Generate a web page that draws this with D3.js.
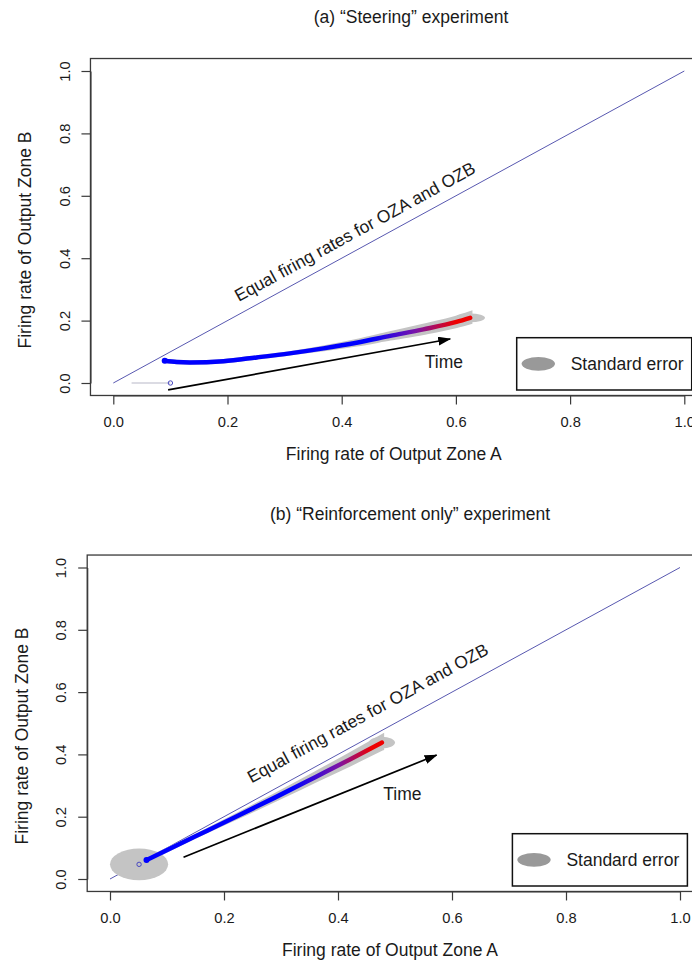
<!DOCTYPE html>
<html>
<head>
<meta charset="utf-8">
<script src="https://cdn.jsdelivr.net/npm/d3@7"></script>
<style>
body { margin: 0; background: #fff; }
text { font-family: "Liberation Sans", Arial, sans-serif; fill: #1a1a1a; }
</style>
</head>
<body>
<div id="chart"></div>
<script>
var svgWidth = 692;
var svgHeight = 964;

// ---- data ----
var axisTicks = [0, 0.2, 0.4, 0.6, 0.8, 1.0];

var panelTitles = ["(a) \u201cSteering\u201d experiment", "(b) \u201cReinforcement only\u201d experiment"];
var xTitle = "Firing rate of Output Zone A";
var yTitle = "Firing rate of Output Zone B";
var diagLabel = "Equal firing rates for OZA and OZB";
var legendLabel = "Standard error";
var timeLabel = "Time";

// (a) steering: mean trajectory and its standard error (vertical half width)
var steerX  = [0.090, 0.111, 0.134, 0.193, 0.251, 0.309, 0.368, 0.426, 0.485, 0.543, 0.601, 0.625];
var steerY  = [0.071, 0.067, 0.066, 0.070, 0.082, 0.095, 0.111, 0.129, 0.151, 0.172, 0.196, 0.209];
var steerSE = [0, 0, 0, 0, 0, 0, 0.002, 0.005, 0.008, 0.011, 0.013, 0.014];
var steerEndSE = [0.026, 0.014];
var steerStart = [0.100, 0.000];
var steerStartSE = [0.068, 0.000];
var steerArrow = [[0.096, -0.022], [0.590, 0.141]];
var steerTimeAt = [0.579, 0.068];
var steerDiagAt = [0.423, 0.485];
var steerColorAt = [0.45, 0.53, 0.60];   // x where blue ends, purple, red begins

// (b) reinforcement only
var reinfX  = [0.064, 0.150, 0.220, 0.290, 0.360, 0.420, 0.477];
var reinfY  = [0.061, 0.137, 0.199, 0.262, 0.327, 0.383, 0.438];
var reinfSE = [0, 0, 0.003, 0.007, 0.011, 0.015, 0.019];
var reinfEndSE = [0.023, 0.019];
var reinfStart = [0.051, 0.047];
var reinfStartSE = [0.051, 0.051];
var reinfArrow = [[0.129, 0.070], [0.573, 0.398]];
var reinfTimeAt = [0.513, 0.273];
var reinfDiagAt = [0.452, 0.533];
var reinfColorAt = [0.32, 0.40, 0.46];

// ---- layout (pixel positions of value 0 and 1 on each axis) ----
var panels = [
    { x0: 113.3, x1: 684.3, y0: 383, y1: 71, titleX: 411, titleY: 17, yTitleX: 25, yTitleY: 240,
      tx: steerX, ty: steerY, se: steerSE, endSE: steerEndSE, start: steerStart, startSE: steerStartSE,
      arrow: steerArrow, timeAt: steerTimeAt, diagAt: steerDiagAt, colorAt: steerColorAt, oneSided: true },
    { x0: 110, x1: 680, y0: 879, y1: 567.5, titleX: 410, titleY: 514, yTitleX: 22, yTitleY: 736,
      tx: reinfX, ty: reinfY, se: reinfSE, endSE: reinfEndSE, start: reinfStart, startSE: reinfStartSE,
      arrow: reinfArrow, timeAt: reinfTimeAt, diagAt: reinfDiagAt, colorAt: reinfColorAt, oneSided: false }
];

var mainFont = "17.5px";
var tickFont = "14.7px";

var svg = d3.select("#chart")
    .append("svg")
    .attr("width", svgWidth)
    .attr("height", svgHeight);

var defs = svg.append("defs");
defs.append("marker")
    .attr("id", "arrowhead")
    .attr("markerUnits", "userSpaceOnUse")
    .attr("markerWidth", 13)
    .attr("markerHeight", 9)
    .attr("refX", 12)
    .attr("refY", 4.5)
    .attr("orient", "auto")
    .append("path")
    .attr("d", "M0,0 L13,4.5 L0,9 Z")
    .attr("fill", "#000");

panels.forEach(function (p, i) {
    var x = d3.scaleLinear().domain([0, 1]).range([p.x0, p.x1]);
    var y = d3.scaleLinear().domain([0, 1]).range([p.y0, p.y1]);
    var g = svg.append("g");

    var boxL = x(-0.04), boxR = x(1.04), boxT = y(1.04), boxB = y(-0.04);

    // title
    g.append("text")
        .attr("x", p.titleX).attr("y", p.titleY)
        .attr("dy", "0.35em")
        .attr("text-anchor", "middle")
        .style("font-size", mainFont)
        .text(panelTitles[i]);

    // diagonal
    g.append("line")
        .attr("x1", x(0)).attr("y1", y(0))
        .attr("x2", x(1)).attr("y2", y(1))
        .attr("stroke", "#5858b0")
        .attr("stroke-width", 1);

    var pts = p.tx.map(function (v, k) { return { x: v, y: p.ty[k], se: p.se[k] }; });
    var last = pts[pts.length - 1];

    // standard error: start ellipse / line
    if (p.oneSided) {
        g.append("line")
            .attr("x1", x(p.start[0] - p.startSE[0])).attr("y1", y(p.start[1]))
            .attr("x2", x(p.start[0])).attr("y2", y(p.start[1]))
            .attr("stroke", "#b8b8c8")
            .attr("stroke-width", 1.2);
    } else {
        g.append("ellipse")
            .attr("cx", x(p.start[0])).attr("cy", y(p.start[1]))
            .attr("rx", x(p.startSE[0]) - x(0))
            .attr("ry", y(0) - y(p.startSE[1]))
            .attr("fill", "#c4c4c4");
    }

    // standard error band along the trajectory
    var band = d3.area()
        .x(function (d) { return x(d.x); })
        .y0(function (d) { return y(d.y - d.se); })
        .y1(function (d) { return y(d.y + d.se); })
        .curve(d3.curveMonotoneX);
    g.append("path")
        .attr("d", band(pts))
        .attr("fill", "#c4c4c4")
        .attr("stroke", "#c4c4c4")
        .attr("stroke-width", 4.5);
    g.append("ellipse")
        .attr("cx", x(last.x)).attr("cy", y(last.y))
        .attr("rx", x(p.endSE[0]) - x(0))
        .attr("ry", y(0) - y(p.endSE[1]))
        .attr("fill", "#c4c4c4");

    // start marker
    g.append("circle")
        .attr("cx", x(p.start[0])).attr("cy", y(p.start[1]))
        .attr("r", 2.2)
        .attr("fill", "none")
        .attr("stroke", "#4848c0")
        .attr("stroke-width", 1);

    // trajectory coloured blue -> red over time
    var gradId = "grad" + i;
    var span = last.x - pts[0].x;
    var grad = defs.append("linearGradient")
        .attr("id", gradId)
        .attr("gradientUnits", "userSpaceOnUse")
        .attr("x1", x(pts[0].x)).attr("y1", 0)
        .attr("x2", x(last.x)).attr("y2", 0);
    var stopCols = ["#0000ff", "#7a14a8", "#ee0000"];
    grad.append("stop").attr("offset", 0).attr("stop-color", "#0000ff");
    p.colorAt.forEach(function (cx, k) {
        grad.append("stop")
            .attr("offset", (cx - pts[0].x) / span)
            .attr("stop-color", stopCols[k]);
    });
    grad.append("stop").attr("offset", 1).attr("stop-color", "#ee0000");

    var line = d3.line()
        .x(function (d) { return x(d.x); })
        .y(function (d) { return y(d.y); })
        .curve(d3.curveMonotoneX);
    g.append("path")
        .attr("d", line(pts))
        .attr("fill", "none")
        .attr("stroke", "url(#" + gradId + ")")
        .attr("stroke-width", 4.5)
        .attr("stroke-linecap", "round");
    g.append("circle")
        .attr("cx", x(pts[0].x)).attr("cy", y(pts[0].y))
        .attr("r", 3)
        .attr("fill", "#0000ff");

    // time arrow
    g.append("line")
        .attr("x1", x(p.arrow[0][0])).attr("y1", y(p.arrow[0][1]))
        .attr("x2", x(p.arrow[1][0])).attr("y2", y(p.arrow[1][1]))
        .attr("stroke", "#000")
        .attr("stroke-width", 1.7)
        .attr("marker-end", "url(#arrowhead)");
    g.append("text")
        .attr("x", x(p.timeAt[0])).attr("y", y(p.timeAt[1]))
        .attr("dy", "0.35em")
        .attr("text-anchor", "middle")
        .style("font-size", mainFont)
        .text(timeLabel);

    // label along the diagonal
    var ang = Math.atan2(y(0) - y(1), x(1) - x(0)) * 180 / Math.PI;
    g.append("text")
        .attr("transform", "translate(" + x(p.diagAt[0]) + "," + y(p.diagAt[1]) + ") rotate(" + (-ang) + ")")
        .attr("dy", "0.35em")
        .attr("text-anchor", "middle")
        .style("font-size", mainFont)
        .text(diagLabel);

    // box
    g.append("rect")
        .attr("x", boxL).attr("y", boxT)
        .attr("width", boxR - boxL).attr("height", boxB - boxT)
        .attr("fill", "none")
        .attr("stroke", "#3a3a3a")
        .attr("stroke-width", 1.3);

    // axes
    var xAxis = g.append("g")
        .attr("transform", "translate(0," + boxB + ")")
        .call(d3.axisBottom(x).tickValues(axisTicks).tickFormat(d3.format(".1f")).tickSize(9).tickSizeOuter(0));
    xAxis.selectAll("text")
        .attr("y", 26).attr("dy", "0.35em")
        .style("font-size", tickFont)
        .style("font-family", "Liberation Sans, Arial, sans-serif")
        .attr("fill", "#2a2a2a");

    var yAxis = g.append("g")
        .attr("transform", "translate(" + boxL + ",0)")
        .call(d3.axisLeft(y).tickValues(axisTicks).tickFormat(d3.format(".1f")).tickSize(9).tickSizeOuter(0));
    yAxis.selectAll("text")
        .attr("transform", "rotate(-90)")
        .attr("x", 0).attr("y", -26).attr("dy", "0.35em")
        .attr("text-anchor", "middle")
        .style("font-size", tickFont)
        .style("font-family", "Liberation Sans, Arial, sans-serif")
        .attr("fill", "#2a2a2a");
    g.selectAll(".domain, .tick line").attr("stroke", "#3a3a3a").attr("stroke-width", 1.2);

    // axis titles
    g.append("text")
        .attr("x", (boxL + boxR) / 2 - 5).attr("y", boxB + 58)
        .attr("dy", "0.35em")
        .attr("text-anchor", "middle")
        .style("font-size", mainFont)
        .text(xTitle);
    g.append("text")
        .attr("transform", "translate(" + p.yTitleX + "," + p.yTitleY + ") rotate(-90)")
        .attr("dy", "0.35em")
        .attr("text-anchor", "middle")
        .style("font-size", mainFont)
        .text(yTitle);

    // legend
    var lgL = x(1) - 167.6, lgR = x(1) + 7.4, lgT = y(0) - 45.3, lgB = y(0) + 7;
    g.append("rect")
        .attr("x", lgL).attr("y", lgT)
        .attr("width", lgR - lgL).attr("height", lgB - lgT)
        .attr("fill", "#fff")
        .attr("stroke", "#111")
        .attr("stroke-width", 1.5);
    g.append("ellipse")
        .attr("cx", lgL + 21.6).attr("cy", (lgT + lgB) / 2)
        .attr("rx", 16.7).attr("ry", 6.8)
        .attr("fill", "#999");
    g.append("text")
        .attr("x", lgL + 54).attr("y", (lgT + lgB) / 2)
        .attr("dy", "0.35em")
        .style("font-size", mainFont)
        .text(legendLabel);
});
</script>
</body>
</html>
